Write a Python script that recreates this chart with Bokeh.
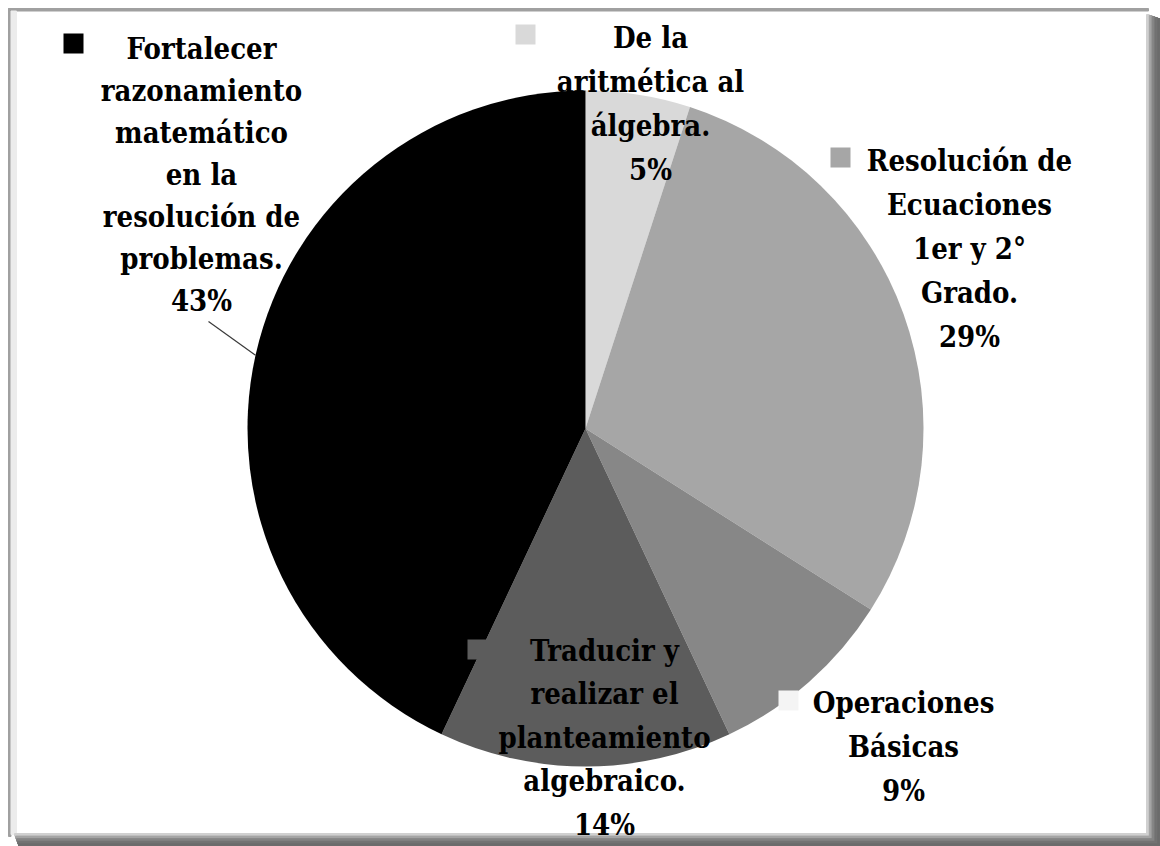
import numpy as np
from bokeh.plotting import figure
from bokeh.models import Range1d, ColumnDataSource
from bokeh.core.properties import value
from bokeh.embed import file_html
from bokeh.resources import INLINE

# ---------------- data ----------------
categories = [
    "De la aritmética al álgebra.",
    "Resolución de Ecuaciones 1er y 2° Grado.",
    "Operaciones Básicas",
    "Traducir y realizar el planteamiento algebraico.",
    "Fortalecer razonamiento matemático en la resolución de problemas.",
]
percentages = [5, 29, 9, 14, 43]
name_lines = [
    ["De la", "aritmética al", "álgebra."],
    ["Resolución de", "Ecuaciones", "1er y 2°", "Grado."],
    ["Operaciones", "Básicas"],
    ["Traducir y", "realizar el", "planteamiento", "algebraico."],
    ["Fortalecer", "razonamiento", "matemático", "en la", "resolución de", "problemas."],
]
slice_colors = ["#d9d9d9", "#a6a6a6", "#878787", "#5c5c5c", "#000000"]
key_colors = ["#d9d9d9", "#a6a6a6", "#f4f4f4", "#5c5c5c", "#000000"]

# ---------------- layout (image pixel coords) ----------------
W, H = 1160, 846
def Y(py):
    return H - py

CX, CY, R = 585, 428, 338
# label placement: (center x, first line y, line spacing)
label_pos = [(650, 37, 44), (969, 160, 44), (903, 702, 44), (604, 650, 43.5), (201, 48, 42)]
key_pos = [(525, 34), (840, 157), (788, 700), (477, 649), (73, 43)]
FONT = value("DejaVu Serif Condensed")

p = figure(width=W, height=H, output_backend="svg", toolbar_location=None,
           x_range=Range1d(0, W), y_range=Range1d(0, H),
           min_border=0, outline_line_color=None, background_fill_color="white")
p.axis.visible = False
p.grid.visible = False

# frame / shadow
p.quad(left=8, right=1148, top=Y(8), bottom=Y(10.5), color="#a0a0a0")
p.quad(left=8, right=10.5, top=Y(8), bottom=Y(836), color="#a0a0a0")
p.quad(left=10.5, right=16, top=Y(10.5), bottom=Y(834), color="#ececec")
shade = ["#d0d0d0", "#a4a4a4", "#848484", "#727272", "#6c6c6c"]
for i, c in enumerate(shade):
    x0 = 1146 + i * 2.8
    p.quad(left=x0, right=x0 + 2.8, top=Y(14 + i), bottom=Y(846), color=c)
    y0 = 833 + i * 2.6
    p.quad(left=14 + i, right=1160, top=Y(y0), bottom=Y(y0 + 2.6), color=c)

# wedges, clockwise from 12 o'clock
frac = np.array(percentages, dtype=float) / sum(percentages)
cum = np.concatenate([[0], np.cumsum(frac)])
start = np.pi / 2 - 2 * np.pi * cum[1:]
end = np.pi / 2 - 2 * np.pi * cum[:-1]
src = ColumnDataSource(dict(start=start, end=end, color=slice_colors, cat=categories))
p.wedge(x=CX, y=Y(CY), radius=R, start_angle="start", end_angle="end",
        color="color", line_color=None, source=src)

# leader line for the largest slice
ang = np.deg2rad(167.5)
p.line([208, CX + R * np.cos(ang)], [Y(321), Y(CY) + R * np.sin(ang)],
       line_color="#3a3a3a", line_width=1.2)

# legend keys
p.rect(x=[k[0] for k in key_pos], y=[Y(k[1]) for k in key_pos], width=20, height=20,
       fill_color=key_colors, line_color=None)

# labels
tx, ty, tt = [], [], []
for lines, pct, (lx, ly, sp) in zip(name_lines, percentages, label_pos):
    for i, s in enumerate(lines + [f"{pct}%"]):
        tx.append(lx)
        ty.append(Y(ly + i * sp))
        tt.append(s)
p.text(x=tx, y=ty, text=tt, text_font=FONT, text_font_style="bold",
       text_font_size="29px", text_align="center", text_baseline="middle",
       text_color="black")

open("out.html", "w").write(file_html(p, INLINE))
